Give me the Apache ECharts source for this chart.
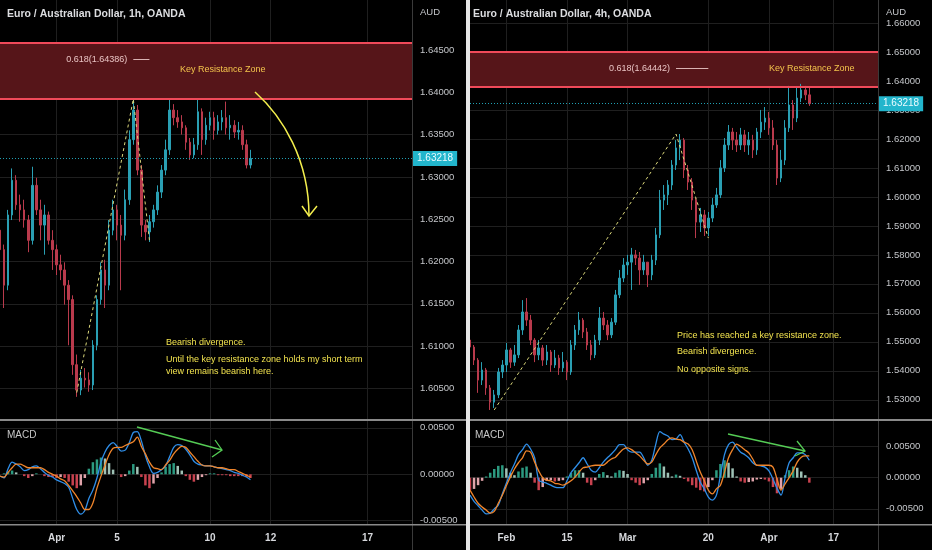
<!DOCTYPE html>
<html>
<head>
<meta charset="utf-8">
<script src="https://cdn.jsdelivr.net/npm/echarts@6.0.0/dist/echarts.min.js"></script>
<style>
html,body{margin:0;padding:0;background:#000;}
#c{width:932px;height:550px;}
</style>
</head>
<body>
<div id="c"></div>
<script>
// ---------- DATA ----------
const leftTitle = 'Euro / Australian Dollar, 1h, OANDA';
const rightTitle = 'Euro / Australian Dollar, 4h, OANDA';
const lastPrice = 1.63218;

const leftSlotCount = 103;
const leftTickText = ['Apr','5','10','12','17'];
const leftTickSlot = [14,29,52,67,91];
const leftPriceTicks = [1.605,1.61,1.615,1.62,1.625,1.63,1.635,1.64,1.645];
const leftZone = [1.63925, 1.64586];
const leftFib = 1.64386;

const rightSlotCount = 102;
const rightTickText = ['Feb','15','Mar','20','Apr','17'];
const rightTickSlot = [9,24,39,59,74,90];
const rightPriceTicks = [1.53,1.54,1.55,1.56,1.57,1.58,1.59,1.60,1.61,1.62,1.63,1.64,1.65,1.66];
const rightZone = [1.638, 1.65];
const rightFib = 1.64442;

const macdTicks = [-0.005, 0, 0.005];

// [open, close, low, high]
const leftCandles = [
[1.6237,1.6214,1.6208,1.6243],[1.6214,1.6172,1.6145,1.6220],[1.6172,1.6255,1.6166,1.6261],[1.6255,1.6296,1.6249,1.6310],
[1.6296,1.6267,1.6261,1.6302],[1.6267,1.6261,1.6247,1.6279],[1.6261,1.6249,1.6240,1.6273],[1.6249,1.6225,1.6211,1.6255],
[1.6225,1.6290,1.6220,1.6312],[1.6290,1.6261,1.6255,1.6299],[1.6261,1.6243,1.6225,1.6273],[1.6243,1.6255,1.6208,1.6267],
[1.6255,1.6225,1.6220,1.6259],[1.6225,1.6214,1.6190,1.6237],[1.6214,1.6196,1.6184,1.6220],[1.6196,1.6190,1.6178,1.6208],
[1.6190,1.6172,1.6149,1.6199],[1.6172,1.6155,1.6101,1.6178],[1.6155,1.6078,1.6066,1.6160],[1.6078,1.6048,1.6040,1.6090],
[1.6048,1.6062,1.6042,1.6072],[1.6062,1.6060,1.6051,1.6074],[1.6060,1.6054,1.6046,1.6069],[1.6054,1.6101,1.6048,1.6107],
[1.6101,1.6155,1.6095,1.6160],[1.6155,1.6190,1.6149,1.6199],[1.6190,1.6172,1.6145,1.6202],[1.6172,1.6237,1.6166,1.6249],
[1.6237,1.6261,1.6231,1.6273],[1.6261,1.6243,1.6225,1.6267],[1.6243,1.6231,1.6166,1.6255],[1.6231,1.6273,1.6225,1.6285],
[1.6273,1.6344,1.6267,1.6355],[1.6344,1.6379,1.6338,1.6392],[1.6379,1.6308,1.6302,1.6385],[1.6308,1.6243,1.6229,1.6314],
[1.6243,1.6235,1.6225,1.6249],[1.6235,1.6247,1.6223,1.6255],[1.6247,1.6261,1.6240,1.6267],[1.6261,1.6282,1.6255,1.6290],
[1.6282,1.6308,1.6275,1.6314],[1.6308,1.6332,1.6302,1.6344],[1.6332,1.6379,1.6326,1.6392],[1.6379,1.6370,1.6361,1.6386],
[1.6370,1.6365,1.6358,1.6379],[1.6365,1.6358,1.6350,1.6373],[1.6358,1.6341,1.6332,1.6361],[1.6341,1.6326,1.6320,1.6346],
[1.6326,1.6338,1.6322,1.6346],[1.6338,1.6377,1.6332,1.6392],[1.6377,1.6344,1.6326,1.6381],[1.6344,1.6361,1.6338,1.6370],
[1.6361,1.6370,1.6355,1.6377],[1.6370,1.6355,1.6344,1.6377],[1.6355,1.6365,1.6350,1.6373],[1.6365,1.6370,1.6355,1.6379],
[1.6370,1.6358,1.6350,1.6389],[1.6358,1.6361,1.6344,1.6373],[1.6361,1.6353,1.6346,1.6367],[1.6353,1.6355,1.6344,1.6365],
[1.6355,1.6338,1.6332,1.6361],[1.6338,1.6314,1.6310,1.6344],[1.6314,1.63218,1.6310,1.6332]
];
const leftMacd = [-0.0002,-0.0004,0.0006,0.0013,0.0011,0.0008,0.0004,0.0005,0.0008,0.0009,
0.0006,0.0002,-0.0001,-0.0003,-0.0006,-0.0008,-0.0010,-0.0014,-0.0026,-0.0038,
-0.0043,-0.0039,-0.0026,-0.0017,-0.0004,0.0013,0.0024,0.0031,0.0034,0.0030,
0.0025,0.0026,0.0034,0.0045,0.0046,0.0036,0.0020,0.0008,0.0001,0.0002,
0.0005,0.0009,0.0019,0.0029,0.0032,0.0031,0.0027,0.0021,0.0014,0.0011,
0.0010,0.0009,0.0009,0.0008,0.0007,0.0006,0.0005,0.0004,0.0002,0.0001,
-0.0001,-0.0003,-0.0006];
const leftSignal = [-0.0002,-0.0003,0.0002,0.0007,0.0011,0.0011,0.0009,0.0007,0.0007,0.0007,
0.0007,0.0005,0.0002,0.0000,-0.0002,-0.0005,-0.0007,-0.0012,-0.0018,-0.0024,
-0.0031,-0.0038,-0.0038,-0.0031,-0.0015,-0.0002,0.0010,0.0021,0.0028,0.0029,
0.0029,0.0031,0.0033,0.0035,0.0040,0.0030,0.0022,0.0013,0.0007,0.0006,
0.0005,0.0010,0.0015,0.0022,0.0027,0.0030,0.0029,0.0024,0.0019,0.0014,
0.0010,0.0009,0.0009,0.0008,0.0007,0.0007,0.0006,0.0005,0.0005,0.0003,
0.0001,-0.0001,-0.0003];
const leftHist = [0.0000,0.0001,0.0003,0.0004,0.0002,0.0000,-0.0002,-0.0004,-0.0002,0.0001,
0.0000,-0.0002,-0.0003,-0.0003,-0.0004,-0.0003,-0.0004,-0.0008,-0.0012,-0.0015,
-0.0012,-0.0004,0.0006,0.0013,0.0016,0.0018,0.0017,0.0012,0.0005,0.0000,
-0.0003,-0.0002,0.0004,0.0011,0.0008,-0.0003,-0.0012,-0.0015,-0.0010,-0.0004,
0.0002,0.0008,0.0011,0.0012,0.0009,0.0004,-0.0002,-0.0006,-0.0008,-0.0006,
-0.0003,-0.0001,0.0001,0.0001,-0.0001,-0.0001,-0.0001,-0.0002,-0.0002,-0.0002,
-0.0002,-0.0003,-0.0004];
const leftTrend = [[19,1.6045],[33,1.6392],[37,1.6225]];

const rightCandles = [
[1.5506,1.5482,1.5465,1.5513],[1.5482,1.5437,1.5420,1.5489],[1.5437,1.5368,1.5324,1.5444],[1.5368,1.5403,1.5351,1.5430],
[1.5403,1.5341,1.5317,1.5410],[1.5341,1.5292,1.5265,1.5351],[1.5292,1.5317,1.5272,1.5334],[1.5317,1.5396,1.5306,1.5410],
[1.5396,1.5420,1.5375,1.5437],[1.5420,1.5472,1.5396,1.5496],[1.5472,1.5430,1.5410,1.5479],[1.5430,1.5455,1.5417,1.5489],
[1.5455,1.5541,1.5444,1.5558],[1.5541,1.5603,1.5524,1.5644],[1.5603,1.5575,1.5555,1.5651],[1.5575,1.5506,1.5489,1.5593],
[1.5506,1.5455,1.5430,1.5513],[1.5455,1.5479,1.5437,1.5506],[1.5479,1.5437,1.5417,1.5489],[1.5437,1.5465,1.5420,1.5489],
[1.5465,1.5420,1.5396,1.5472],[1.5420,1.5444,1.5410,1.5472],[1.5444,1.5410,1.5386,1.5455],[1.5410,1.5430,1.5396,1.5465],
[1.5430,1.5396,1.5368,1.5437],[1.5396,1.5489,1.5386,1.5506],[1.5489,1.5541,1.5472,1.5558],[1.5541,1.5575,1.5524,1.5603],
[1.5575,1.5534,1.5513,1.5582],[1.5534,1.5489,1.5472,1.5548],[1.5489,1.5455,1.5437,1.5506],[1.5455,1.5506,1.5444,1.5524],
[1.5506,1.5582,1.5489,1.5620],[1.5582,1.5558,1.5541,1.5603],[1.5558,1.5524,1.5506,1.5575],[1.5524,1.5568,1.5513,1.5582],
[1.5568,1.5662,1.5558,1.5679],[1.5662,1.5720,1.5651,1.5748],[1.5720,1.5765,1.5706,1.5789],[1.5765,1.5775,1.5731,1.5800],
[1.5775,1.5800,1.5679,1.5824],[1.5800,1.5789,1.5765,1.5817],[1.5789,1.5748,1.5696,1.5810],[1.5748,1.5775,1.5731,1.5800],
[1.5775,1.5731,1.5689,1.5775],[1.5731,1.5782,1.5713,1.5800],[1.5782,1.5869,1.5765,1.5893],[1.5869,1.5989,1.5858,1.6024],
[1.5989,1.6007,1.5955,1.6041],[1.6007,1.6041,1.5972,1.6058],[1.6041,1.6110,1.6024,1.6127],[1.6110,1.6169,1.6093,1.6196],
[1.6169,1.6196,1.6127,1.6217],[1.6196,1.6093,1.6065,1.6203],[1.6093,1.6051,1.6024,1.6110],[1.6051,1.5989,1.5955,1.6065],
[1.5989,1.5913,1.5858,1.5996],[1.5913,1.5938,1.5879,1.5962],[1.5938,1.5893,1.5865,1.5955],[1.5893,1.5927,1.5865,1.5948],
[1.5927,1.5972,1.5913,1.5996],[1.5972,1.6007,1.5962,1.6031],[1.6007,1.6100,1.5996,1.6127],[1.6100,1.6179,1.6086,1.6203],
[1.6179,1.6224,1.6162,1.6248],[1.6224,1.6196,1.6162,1.6238],[1.6196,1.6179,1.6155,1.6224],[1.6179,1.6214,1.6162,1.6238],
[1.6214,1.6179,1.6155,1.6231],[1.6179,1.6196,1.6145,1.6224],[1.6196,1.6162,1.6134,1.6214],[1.6162,1.6224,1.6145,1.6238],
[1.6224,1.6258,1.6203,1.6300],[1.6258,1.6272,1.6231,1.6310],[1.6272,1.6238,1.6214,1.6293],[1.6238,1.6179,1.6162,1.6265],
[1.6179,1.6065,1.6041,1.6196],[1.6065,1.6127,1.6051,1.6162],[1.6127,1.6238,1.6110,1.6265],[1.6238,1.6317,1.6224,1.6383],
[1.6317,1.6272,1.6231,1.6334],[1.6272,1.6341,1.6258,1.6376],[1.6341,1.6369,1.6327,1.6390],[1.6369,1.6352,1.6334,1.6383],
[1.6352,1.63218,1.6314,1.6376]
];
const rightMacd = [-0.0028,-0.0038,-0.0045,-0.0052,-0.0058,-0.0057,-0.0050,-0.0044,-0.0026,-0.0009,
0.0008,0.0022,0.0037,0.0045,0.0054,0.0046,0.0032,-0.0004,-0.0007,-0.0009,
-0.0012,-0.0015,-0.0016,-0.0016,-0.0005,0.0008,0.0016,0.0024,0.0032,0.0022,
0.0012,0.0009,0.0016,0.0025,0.0032,0.0038,0.0045,0.0053,0.0053,0.0045,
0.0041,0.0041,0.0041,0.0032,0.0020,0.0028,0.0054,0.0074,0.0070,0.0067,
0.0061,0.0062,0.0069,0.0057,0.0046,0.0032,0.0012,-0.0007,-0.0018,-0.0031,
-0.0036,-0.0028,0.0004,0.0037,0.0053,0.0057,0.0049,0.0041,0.0037,0.0032,
0.0024,0.0020,0.0019,0.0017,0.0011,-0.0002,-0.0017,-0.0028,0.0000,0.0024,
0.0032,0.0040,0.0040,0.0037,0.0028];
const rightSignal = [-0.0020,-0.0031,-0.0041,-0.0047,-0.0052,-0.0057,-0.0054,-0.0041,-0.0028,-0.0013,
0.0001,0.0014,0.0024,0.0032,0.0043,0.0041,0.0025,0.0011,0.0000,-0.0004,
-0.0005,-0.0009,-0.0010,-0.0012,-0.0009,-0.0005,0.0001,0.0009,0.0016,0.0017,
0.0019,0.0020,0.0020,0.0020,0.0025,0.0030,0.0033,0.0040,0.0046,0.0048,
0.0045,0.0040,0.0035,0.0028,0.0022,0.0025,0.0037,0.0048,0.0054,0.0061,
0.0064,0.0062,0.0061,0.0057,0.0054,0.0045,0.0027,0.0009,-0.0005,-0.0020,
-0.0026,-0.0018,-0.0012,0.0009,0.0032,0.0045,0.0054,0.0050,0.0045,0.0040,
0.0030,0.0020,0.0020,0.0020,0.0020,0.0017,-0.0002,-0.0020,-0.0010,0.0000,
0.0011,0.0025,0.0033,0.0035,0.0035];
const rightHist = [-0.0020,-0.0018,-0.0012,-0.0005,0.0002,0.0008,0.0014,0.0019,0.0020,0.0015,
0.0008,0.0004,0.0010,0.0016,0.0018,0.0008,-0.0008,-0.0020,-0.0015,-0.0005,
-0.0004,-0.0006,-0.0005,-0.0004,0.0002,0.0008,0.0012,0.0012,0.0008,-0.0008,
-0.0012,-0.0004,0.0006,0.0009,0.0004,0.0002,0.0008,0.0012,0.0011,0.0006,
-0.0004,-0.0008,-0.0012,-0.0009,-0.0004,0.0006,0.0016,0.0023,0.0018,0.0008,
0.0002,0.0005,0.0003,-0.0002,-0.0006,-0.0012,-0.0016,-0.0020,-0.0022,-0.0015,
-0.0004,0.0012,0.0022,0.0028,0.0024,0.0015,0.0002,-0.0006,-0.0008,-0.0007,
-0.0006,-0.0003,-0.0002,-0.0003,-0.0006,-0.0015,-0.0025,-0.0018,0.0004,0.0012,
0.0018,0.0016,0.0010,0.0004,-0.0008];
const rightTrend = [[6,1.5265],[51,1.6217],[59,1.5858]];

// ---------- CHART ----------
const FONT = "'Liberation Sans', Arial, sans-serif";
const UP = '#2a9fb3', DOWN = '#b93a4c';
const GRIDC = '#1f1f1f';
const leftCats = Array.from({length: leftSlotCount}, (_, i) => String(i));
const rightCats = Array.from({length: rightSlotCount}, (_, i) => String(i));

function xAx(grid, cats, slots, texts, showLabel) {
  return {
    type: 'category', gridIndex: grid, data: cats, boundaryGap: false,
    axisLine: {show: false}, axisTick: {show: false},
    axisLabel: {
      show: showLabel, interval: (i) => slots.indexOf(i) >= 0,
      formatter: (v, i) => { const k = slots.indexOf(i); return k >= 0 ? texts[k] : ''; },
      color: '#d6d8dc', fontSize: 10, fontWeight: 'bold', fontFamily: FONT, margin: 9
    },
    splitLine: {show: true, interval: (i) => slots.indexOf(i) >= 0, lineStyle: {color: GRIDC, width: 1}}
  };
}
function yAx(grid, min, max, ticks) {
  return {
    type: 'value', gridIndex: grid, position: 'right', min: min, max: max, scale: true,
    axisLine: {show: false},
    axisTick: {show: false, customValues: ticks},
    axisLabel: {customValues: ticks, formatter: (v) => v.toFixed(5), color: '#c4c6ca',
      fontSize: 9.5, fontFamily: FONT, margin: 8},
    splitLine: {show: true, lineStyle: {color: GRIDC, width: 1}}
  };
}
function histColor(arr) {
  return (p) => {
    const v = arr[p.dataIndex], prev = p.dataIndex > 0 ? arr[p.dataIndex - 1] : v;
    if (v >= 0) return v >= prev ? '#2c9a80' : '#9fc2b6';
    return v <= prev ? '#c8424f' : '#e0a3aa';
  };
}
function priceMarkLine(zone, fib, fibFrom, fibTo) {
  const zl = {color: '#f04a5a', width: 2, type: 'solid'};
  return {
    symbol: ['none', 'none'], silent: true, animation: false, precision: 5,
    data: [
      {yAxis: zone[0], lineStyle: zl, label: {show: false}},
      {yAxis: zone[1], lineStyle: zl, label: {show: false}},
      {yAxis: lastPrice, lineStyle: {color: '#1f9fb2', width: 1, type: [1, 2]},
        label: {show: true, position: 'end', distance: 1, formatter: lastPrice.toFixed(5),
          backgroundColor: '#22b5cc', color: '#e9fbff', padding: [3, 4, 2, 4], fontSize: 10, fontFamily: FONT}},
      [{coord: [fibFrom, fib], lineStyle: {color: '#d9b3b3', width: 1, type: 'solid'},
        label: {show: true, position: 'start', distance: 6, formatter: '0.618(' + fib.toFixed(5) + ')',
          color: '#e8c3c3', fontSize: 9, fontFamily: FONT}},
       {coord: [fibTo, fib]}]
    ]
  };
}
function panelSeries(xi, yi, candles, zone, fib, fibFrom, fibTo, trend, macd, signal, hist) {
  return [
    {type: 'candlestick', xAxisIndex: xi, yAxisIndex: yi, data: candles, barWidth: 2, clip: false,
      itemStyle: {color: UP, color0: DOWN, borderColor: UP, borderColor0: DOWN, borderWidth: 1},
      markArea: {silent: true, precision: 5, itemStyle: {color: '#561519'}, data: [[{yAxis: zone[0]}, {yAxis: zone[1]}]]},
      markLine: priceMarkLine(zone, fib, fibFrom, fibTo), z: 3},
    {type: 'line', xAxisIndex: xi, yAxisIndex: yi, data: trend, symbol: 'none', z: 4,
      lineStyle: {color: '#dcd97c', width: 1, type: [3, 3]}},
    {type: 'bar', xAxisIndex: xi + 1, yAxisIndex: yi + 1, data: hist, barWidth: 2.5,
      itemStyle: {color: histColor(hist)}},
    {type: 'line', xAxisIndex: xi + 1, yAxisIndex: yi + 1, data: macd, symbol: 'none', smooth: 0.3,
      lineStyle: {color: '#2f8ee8', width: 1.3}},
    {type: 'line', xAxisIndex: xi + 1, yAxisIndex: yi + 1, data: signal, symbol: 'none', smooth: 0.3,
      lineStyle: {color: '#f0852b', width: 1.3}}
  ];
}

function txt(x, y, s, color, size, weight, extra) {
  return Object.assign({type: 'text', x: x, y: y, z: 100, silent: true,
    style: {text: s, fill: color, font: (weight || 'normal') + ' ' + size + 'px ' + FONT, textVerticalAlign: 'middle'}}, extra || {});
}
function seg(points, color, w) {
  return {type: 'polyline', z: 100, silent: true, shape: {points: points}, style: {stroke: color, lineWidth: w, fill: null}};
}
function rect(x, y, w, h, c) {
  return {type: 'rect', z: 90, silent: true, shape: {x: x, y: y, width: w, height: h}, style: {fill: c}};
}

const YEL = '#f1e24e', KRZ = '#f3c44c';
const graphics = [
  rect(412, 0, 1, 550, '#3a3a3a'),
  rect(878, 0, 1, 550, '#3a3a3a'),
  rect(0, 419, 466, 2, '#8a8a8a'),
  rect(0, 524, 466, 1.5, '#8a8a8a'),
  rect(470, 419, 462, 2, '#8a8a8a'),
  rect(470, 524, 462, 1.5, '#8a8a8a'),
  rect(466, 0, 4, 550, '#e6e6e6'),
  txt(7, 14, leftTitle, '#dcdde0', 10.5, '600'),
  txt(473, 14, rightTitle, '#dcdde0', 10.5, '600'),
  txt(420, 12, 'AUD', '#c4c6ca', 9.5),
  txt(886, 12, 'AUD', '#c4c6ca', 9.5),
  txt(7, 435, 'MACD', '#c8c8c8', 10),
  txt(475, 435, 'MACD', '#c8c8c8', 10),
  txt(180, 70, 'Key Resistance Zone', KRZ, 9),
  txt(769, 69, 'Key Resistance Zone', KRZ, 9),
  txt(166, 343, 'Bearish divergence.', YEL, 9),
  txt(166, 360, 'Until the key resistance zone holds my short term', YEL, 9),
  txt(166, 372, 'view remains bearish here.', YEL, 9),
  txt(677, 336, 'Price has reached a key resistance zone.', YEL, 9),
  txt(677, 352, 'Bearish divergence.', YEL, 9),
  txt(677, 370, 'No opposite signs.', YEL, 9),
  {type: 'bezierCurve', z: 100, silent: true,
    shape: {x1: 255, y1: 92, cpx1: 283, cpy1: 117, cpx2: 309, cpy2: 160, x2: 309, y2: 216},
    style: {stroke: '#f3ee4d', lineWidth: 1.5, fill: null}},
  seg([[302, 206], [309, 216], [317, 206]], '#f3ee4d', 1.5),
  seg([[137, 427], [222, 450]], '#55cc55', 1.3),
  seg([[215, 440], [222, 450], [212, 457]], '#55cc55', 1.3),
  seg([[728, 434], [805, 451]], '#55cc55', 1.3),
  seg([[797, 441], [805, 451], [795, 456]], '#55cc55', 1.3)
];

const option = {
  backgroundColor: '#000',
  animation: false,
  textStyle: {fontFamily: FONT},
  grid: [
    {left: 0, top: 0, width: 412, height: 419},
    {left: 0, top: 421, width: 412, height: 103},
    {left: 470, top: 0, width: 408, height: 419},
    {left: 470, top: 421, width: 408, height: 103}
  ],
  xAxis: [
    xAx(0, leftCats, leftTickSlot, leftTickText, false),
    xAx(1, leftCats, leftTickSlot, leftTickText, true),
    xAx(2, rightCats, rightTickSlot, rightTickText, false),
    xAx(3, rightCats, rightTickSlot, rightTickText, true)
  ],
  yAxis: [
    yAx(0, 1.60138, 1.65091, leftPriceTicks),
    yAx(1, -0.00536, 0.00574, macdTicks),
    yAx(2, 1.52338, 1.66793, rightPriceTicks),
    yAx(3, -0.00743, 0.0091, macdTicks)
  ],
  series: [].concat(
    panelSeries(0, 0, leftCandles, leftZone, leftFib, 33, 37, leftTrend, leftMacd, leftSignal, leftHist),
    panelSeries(2, 2, rightCandles, rightZone, rightFib, 51, 59, rightTrend, rightMacd, rightSignal, rightHist)
  ),
  graphic: graphics
};

const chart = echarts.init(document.getElementById('c'), null, {renderer: 'canvas'});
chart.setOption(option);
</script>
</body>
</html>
